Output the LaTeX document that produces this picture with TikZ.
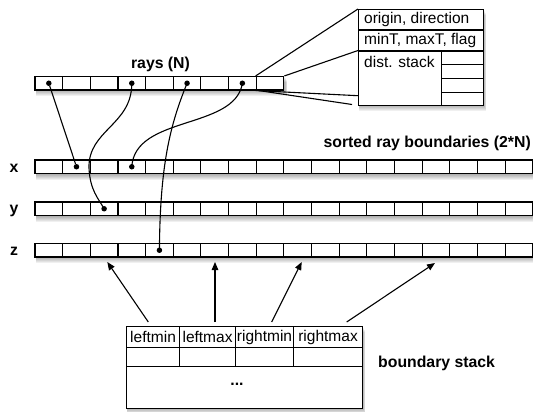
\documentclass[tikz,border=0pt]{standalone}
\usepackage{fontspec}
\setmainfont{Liberation Sans}
\usetikzlibrary{arrows.meta}
\newcommand\softshadow[4]{\foreach \k in {1,...,6}{\fill[black,opacity=0.06] ({#1+1},{#2+\k}) rectangle ({#3+1+0.4*\k},{#4+\k});}}
\begin{document}
\begin{tikzpicture}[x=1pt,y=-1pt,
 cell/.style={draw, line width=1.1pt, fill=white, minimum width=27.65pt, minimum height=13.5pt, inner sep=0pt},
 dot/.style={circle, fill=black, inner sep=0pt, minimum size=5.5pt},
 conn/.style={line width=1.1pt},
 arr/.style={line width=1.1pt, -{Triangle[length=8pt,width=6.5pt]}},
 lbl/.style={font=\fontsize{15.8}{18}\selectfont\bfseries, inner sep=0pt},
 txt/.style={font=\fontsize{15.5}{18}\selectfont, inner sep=0pt},
 box/.style={draw, line width=1.1pt, fill=white, inner sep=0pt},
]
\useasboundingbox (0,0) rectangle (533,412);

% rays row
\softshadow{35}{76.5}{283.9}{90}
\foreach \i in {1,...,9} \node[cell] (r\i) at ({35+27.65*(\i-0.5)},83.25) {};

% sorted rows
\foreach \r/\yy in {x/166.75, y/208.75, z/250.25} {
  \softshadow{35}{\yy-6.75}{532.7}{\yy+6.75}
  \foreach \i in {1,...,18} \node[cell] (\r\i) at ({35+27.65*(\i-0.5)},\yy) {};
}

% labels
\node[lbl, anchor=base] (lrays) at (160.5,68.5) {rays (N)};
\node[lbl, anchor=base east] (lsorted) at (531,147.5) {sorted ray boundaries (2*N)};
\node[lbl, anchor=base] (lx) at (14,172) {x};
\node[lbl, anchor=base] (ly) at (14,213.8) {y};
\node[lbl, anchor=base] (lz) at (14,255.6) {z};

% dots
\foreach \c in {r1,r4,r6,r8,x2,x4,y3,z5} \node[dot] (d\c) at (\c.center) {};

% ray links
\draw[conn] (dr1) -- (dx2);
\draw[conn] (dr4.center) .. controls (132,125) and (88,130) .. (89,168) .. controls (90,190) and (98,198) .. (dy3.center);
\draw[conn] (dr6.center) .. controls (170,125) and (160,165) .. (dz5.center);
\draw[conn] (dr8.center) .. controls (235,130) and (135,115) .. (dx4.center);

% ray record box
\softshadow{358}{9}{483}{105}
\node[box, anchor=north west, minimum width=125pt, minimum height=20.5pt] (od) at (358,9) {};
\node[txt, anchor=west] (odt) at ([xshift=6pt]od.west) {origin, direction};
\node[box, anchor=north west, minimum width=125pt, minimum height=21pt] (mm) at (358,29.5) {};
\node[txt, anchor=west] (mmt) at ([xshift=6pt]mm.west) {minT, maxT, flag};
\node[box, anchor=north west, minimum width=83pt, minimum height=54.5pt] (ds) at (358,50.5) {};
\node[txt, anchor=north west] (dst) at ([shift={(6pt,-6pt)}]ds.north west) {dist. stack};
\node[box, anchor=north west, minimum width=42pt, minimum height=13.5pt] (s1) at (441,50.5) {};
\node[box, anchor=north west, minimum width=42pt, minimum height=14pt] (s2) at (441,64) {};
\node[box, anchor=north west, minimum width=42pt, minimum height=14pt] (s3) at (441,78) {};
\node[box, anchor=north west, minimum width=42pt, minimum height=13pt] (s4) at (441,92) {};

% projection lines
\coordinate (p3) at (358,95.7);
\coordinate (p4) at (352,104.5);
\draw[conn] (r9.north west) -- (od.north west);
\draw[conn] (r9.north east) -- (ds.north west);
\draw[conn] (r9.south west) -- (p3);
\draw[conn] ([xshift=3pt]r9.south west) -- (p4);

% boundary stack
\softshadow{126}{326}{362}{408}
\node[box, txt, anchor=north west, minimum width=53pt, minimum height=21pt] (h1) at (126,326) {leftmin};
\node[box, txt, anchor=north west, minimum width=56pt, minimum height=21pt] (h2) at (179,326) {leftmax};
\node[box, txt, anchor=north west, minimum width=58pt, minimum height=21pt] (h3) at (235,326) {rightmin};
\node[box, txt, anchor=north west, minimum width=69pt, minimum height=21pt] (h4) at (293,326) {rightmax};
\node[box, anchor=north west, minimum width=53pt, minimum height=19pt] (e1) at (126,347) {};
\node[box, anchor=north west, minimum width=56pt, minimum height=19pt] (e2) at (179,347) {};
\node[box, anchor=north west, minimum width=58pt, minimum height=19pt] (e3) at (235,347) {};
\node[box, anchor=north west, minimum width=69pt, minimum height=19pt] (e4) at (293,347) {};
\node[box, anchor=north west, minimum width=236pt, minimum height=42pt] (bs) at (126,366) {};
\node[lbl] (bdots) at (237,384) {...};
\node[lbl, anchor=base west] (lbs) at (378,367) {boundary stack};

% arrows
\coordinate (a1s) at (148.3,322); \coordinate (a1e) at (107.3,262);
\coordinate (a2s) at (215,322);   \coordinate (a2e) at (215,262);
\coordinate (a3s) at (271.7,322); \coordinate (a3e) at (301.7,262);
\coordinate (a4s) at (346.7,322); \coordinate (a4e) at (435,263);
\draw[arr] (a1s) -- (a1e);
\draw[arr] (a2s) -- (a2e);
\draw[arr] (a3s) -- (a3e);
\draw[arr] (a4s) -- (a4e);
\end{tikzpicture}
\end{document}
